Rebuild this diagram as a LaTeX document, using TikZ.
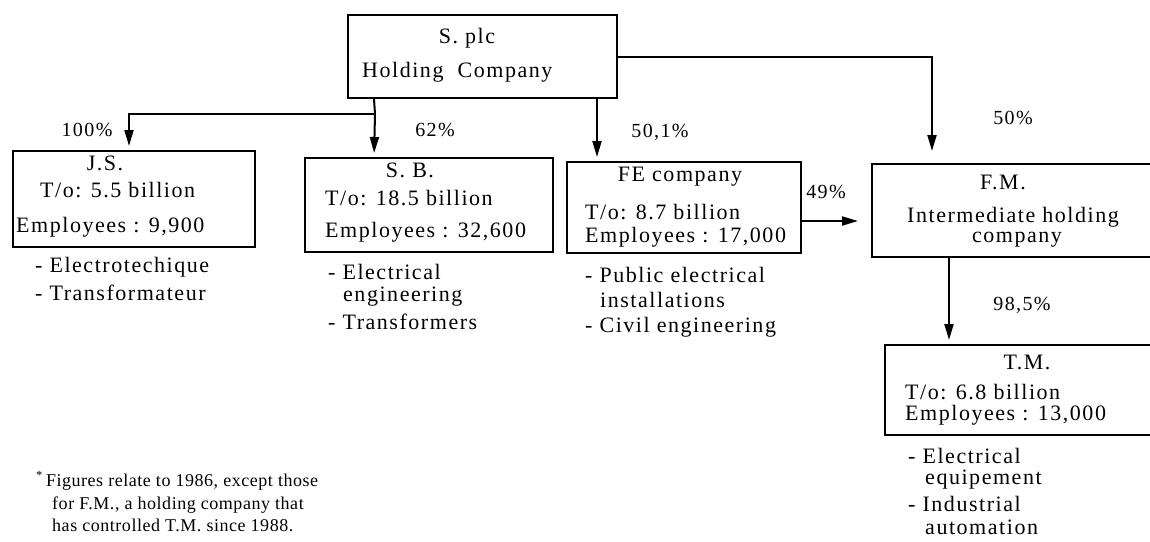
\documentclass[tikz,border=0pt]{standalone}
\usepackage{fontspec}
\setmainfont{Liberation Serif}[LetterSpace=7]
\usetikzlibrary{arrows.meta}
\begin{document}
\begin{tikzpicture}[x=1pt,y=-1pt,
  box/.style={draw, line width=2pt, inner sep=0pt, rectangle},
  arr/.style={line width=2pt, -{Triangle[length=16pt,width=9pt]}, shorten >=4pt},
  txt/.style={inner sep=0pt, font=\fontsize{22}{26}\selectfont},
  lt/.style={txt, anchor=west},
  pct/.style={inner sep=0pt, font=\fontsize{20}{24}\selectfont},
  note/.style={inner sep=0pt, anchor=base west, font=\fontsize{18}{21}\selectfont\addfontfeature{LetterSpace=3}},
]
\clip (0,0) rectangle (1150,541);
% boxes
\node[box, minimum width=269pt, minimum height=83pt] (splc) at (482.5,56.5) {};
\node[box, minimum width=242pt, minimum height=96pt] (js) at (134,199) {};
\node[box, minimum width=248pt, minimum height=94pt] (sb) at (429,205) {};
\node[box, minimum width=234pt, minimum height=91pt] (fe) at (684,207.5) {};
\node[box, minimum width=293pt, minimum height=93pt] (fm) at (1018.5,210.5) {};
\node[box, minimum width=280pt, minimum height=90pt] (tm) at (1025,390) {};
% connectors
\coordinate (split) at (375,114);
\draw[line width=2pt] ([xshift=27pt]splc.south west) -- (split);
\draw[arr] (split) -- ([xshift=70pt]sb.north west);
\draw[arr] (split) -| ([xshift=117pt]js.north west);
\draw[arr] ([xshift=250pt]splc.south west) -- ([xshift=31pt]fe.north west);
\draw[arr, shorten >=12pt] (splc.east) -| ([xshift=61pt]fm.north west);
\draw[arr, shorten >=13pt] ([yshift=-13.5pt]fe.east) -- ([yshift=-13.5pt]fe.east -| fm.west);
\draw[arr] ([xshift=78pt]fm.south west) -- ([xshift=65pt]tm.north west);
% S plc
\node[txt] (t1) at (467,38) {S. plc};
\node[lt] (t2) at (362,72) {Holding\ \ Company};
% percentages
\node[pct] (p1) at (87,130) {100\%};
\node[pct] (p2) at (435,130) {62\%};
\node[pct] (p3) at (660,132) {50,1\%};
\node[pct] (p4) at (1013,118) {50\%};
\node[pct] (p5) at (826,192) {49\%};
\node[pct] (p6) at (1022,305) {98,5\%};
% J.S.
\node[txt] (j1) at (105,163) {J.S.};
\node[lt] (j2) at (40,190) {T/o: 5.5 billion};
\node[lt] (j3) at (16,227) {Employees : 9,900};
\node[lt] (j4) at (35,267) {- Electrotechique};
\node[lt] (j5) at (35,293) {- Transformateur};
% S.B.
\node[txt] (s1) at (410,170) {S. B.};
\node[lt] (s2) at (325,198) {T/o: 18.5 billion};
\node[lt] (s3) at (325,232) {Employees : 32,600};
\node[lt] (s4) at (328,272) {- Electrical};
\node[lt] (s5) at (343,297) {engineering};
\node[lt] (s6) at (328,322) {- Transformers};
% FE
\node[txt] (f1) at (680,177) {FE company};
\node[lt] (f2) at (585,212) {T/o: 8.7 billion};
\node[lt] (f3) at (585,237) {Employees : 17,000};
\node[lt] (f4) at (585,275) {- Public electrical};
\node[lt] (f5) at (600,300) {installations};
\node[lt] (f6) at (585,327) {- Civil engineering};
% F.M.
\node[txt] (m1) at (1003,182) {F.M.};
\node[txt] (m2) at (1013,217) {Intermediate holding};
\node[txt] (m3) at (1017,240) {company};
% T.M.
\node[txt] (n1) at (1027,362) {T.M.};
\node[lt] (n2) at (905,392) {T/o: 6.8 billion};
\node[lt] (n3) at (905,415) {Employees : 13,000};
\node[lt] (n4) at (908,456) {- Electrical};
\node[lt] (n5) at (925,480) {equipement};
\node[lt] (n6) at (908,504) {- Industrial};
\node[lt] (n7) at (925,527) {automation};
% footnote
\node[note] (fn1) at (36,486) {\textsuperscript{*}\,Figures relate to 1986, except those};
\node[note] (fn2) at (52,509) {for F.M., a holding company that};
\node[note] (fn3) at (52,531) {has controlled T.M. since 1988.};
\end{tikzpicture}
\end{document}
